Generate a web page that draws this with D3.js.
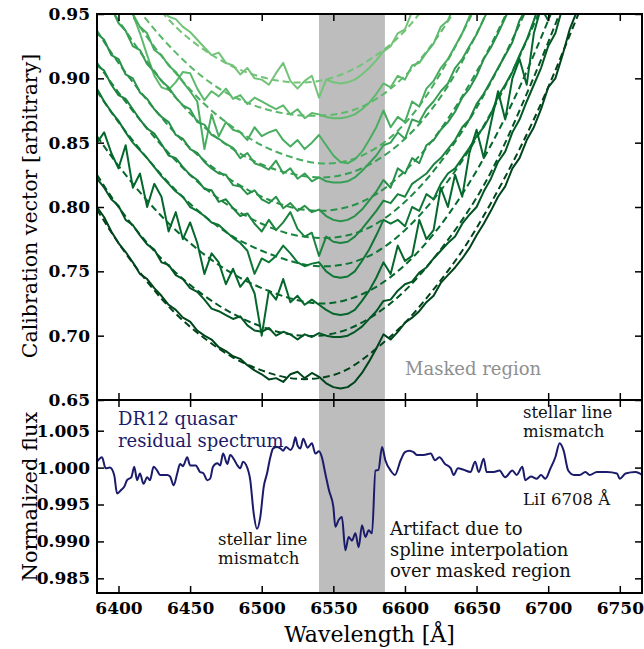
<!DOCTYPE html>
<html>
<head>
<meta charset="utf-8">
<script src="https://cdn.jsdelivr.net/npm/d3@7"></script>
<style>
  body { margin: 0; background: #fff; }
  svg { display: block; font-family: "DejaVu Serif", serif; }
</style>
</head>
<body>
<svg id="chart" width="644" height="649"></svg>
<script>
// wavelength range shown and the region masked around H-alpha
const waveDomain = [6385, 6765.5];
const maskedRange = [6540, 6586];

// calibration vectors, sampled every 5 A from their start wavelength
const STEP = 5;
const calibStart = [6425, 6400, 6385, 6385, 6385, 6385, 6385, 6385, 6385, 6385];

const calib1 = [0.965, 0.955, 0.948, 0.946, 0.94, 0.936, 0.93, 0.924, 0.918, 0.92, 0.912, 0.91, 0.903, 0.908, 0.9, 0.899, 0.895, 0.904, 0.912, 0.898, 0.892, 0.898, 0.902, 0.885,
  0.899, 0.897, 0.896, 0.897, 0.899, 0.903, 0.908, 0.914, 0.921, 0.925, 0.935, 0.938, 0.952, 0.96];
const calib2 = [0.975, 0.962, 0.95, 0.935, 0.918, 0.902, 0.893, 0.891, 0.897, 0.905, 0.904, 0.892, 0.883, 0.89, 0.886, 0.892, 0.884, 0.887, 0.88, 0.885, 0.882, 0.879, 0.876, 0.879, 0.872, 0.876, 0.869, 0.873, 0.872,
  0.87, 0.869, 0.869, 0.87, 0.872, 0.876, 0.881, 0.888, 0.896, 0.893, 0.902, 0.899, 0.91, 0.912, 0.92, 0.927, 0.94, 0.945, 0.958, 0.965];
const calib3 = [0.99, 0.985, 0.972, 0.968, 0.955, 0.95, 0.94, 0.935, 0.922, 0.918, 0.91, 0.905, 0.897, 0.89, 0.882, 0.845, 0.872, 0.855, 0.866, 0.86, 0.858, 0.852, 0.862, 0.855, 0.858, 0.86, 0.852, 0.847, 0.852, 0.845, 0.85, 0.856,
  0.848, 0.84, 0.835, 0.834, 0.837, 0.843, 0.852, 0.862, 0.875, 0.862, 0.87, 0.866, 0.882, 0.878, 0.892, 0.898, 0.908, 0.915, 0.925, 0.935, 0.948, 0.96];
const calib4 = [0.975, 0.962, 0.955, 0.943, 0.937, 0.925, 0.922, 0.911, 0.905, 0.898, 0.893, 0.885, 0.879, 0.876, 0.866, 0.864, 0.856, 0.853, 0.849, 0.846, 0.838, 0.842, 0.834, 0.832, 0.829, 0.836, 0.826, 0.83, 0.822, 0.826, 0.82, 0.823,
  0.82, 0.819, 0.819, 0.82, 0.823, 0.828, 0.834, 0.84, 0.848, 0.85, 0.858, 0.853, 0.868, 0.866, 0.876, 0.882, 0.89, 0.896, 0.908, 0.915, 0.925, 0.934, 0.946, 0.958];
const calib5 = [0.935, 0.93, 0.918, 0.915, 0.903, 0.9, 0.889, 0.884, 0.876, 0.87, 0.866, 0.856, 0.853, 0.845, 0.842, 0.835, 0.83, 0.826, 0.825, 0.817, 0.816, 0.81, 0.813, 0.806, 0.803, 0.808, 0.799, 0.803, 0.797, 0.801, 0.796, 0.798,
  0.793, 0.79, 0.789, 0.79, 0.793, 0.798, 0.805, 0.812, 0.821, 0.815, 0.83, 0.826, 0.838, 0.834, 0.848, 0.852, 0.86, 0.866, 0.874, 0.885, 0.892, 0.902, 0.915, 0.924, 0.935, 0.947, 0.96];
const calib6 = [0.91, 0.906, 0.895, 0.887, 0.884, 0.876, 0.868, 0.861, 0.857, 0.849, 0.84, 0.838, 0.831, 0.825, 0.821, 0.814, 0.813, 0.804, 0.806, 0.799, 0.793, 0.795, 0.787, 0.781, 0.79, 0.782, 0.788, 0.796, 0.783, 0.777, 0.78, 0.762,
  0.777, 0.773, 0.772, 0.773, 0.777, 0.783, 0.79, 0.797, 0.805, 0.803, 0.81, 0.808, 0.818, 0.822, 0.826, 0.833, 0.838, 0.845, 0.852, 0.862, 0.868, 0.88, 0.888, 0.898, 0.908, 0.918, 0.928, 0.945, 0.955];
const calib7 = [0.892, 0.882, 0.874, 0.867, 0.858, 0.85, 0.844, 0.838, 0.831, 0.824, 0.818, 0.812, 0.808, 0.8, 0.797, 0.793, 0.788, 0.786, 0.781, 0.776, 0.772, 0.766, 0.748, 0.76, 0.757, 0.762, 0.77, 0.764, 0.757, 0.754, 0.756, 0.757,
  0.75, 0.746, 0.745, 0.746, 0.75, 0.758, 0.767, 0.778, 0.79, 0.787, 0.79, 0.785, 0.8, 0.797, 0.81, 0.806, 0.818, 0.826, 0.83, 0.838, 0.846, 0.855, 0.862, 0.872, 0.886, 0.895, 0.905, 0.918, 0.93, 0.945, 0.962];
const calib8 = [0.85, 0.858, 0.842, 0.83, 0.848, 0.815, 0.826, 0.8, 0.818, 0.808, 0.781, 0.796, 0.775, 0.788, 0.772, 0.748, 0.764, 0.757, 0.74, 0.752, 0.738, 0.745, 0.733, 0.7, 0.735, 0.728, 0.744, 0.726, 0.731, 0.724, 0.728, 0.724,
  0.72, 0.717, 0.716, 0.717, 0.72, 0.727, 0.735, 0.745, 0.757, 0.748, 0.77, 0.758, 0.762, 0.79, 0.775, 0.782, 0.815, 0.8, 0.825, 0.808, 0.842, 0.86, 0.838, 0.865, 0.89, 0.868, 0.9, 0.915, 0.895, 0.935, 0.955, 0.945, 0.97];
const calib9 = [0.822, 0.815, 0.806, 0.801, 0.79, 0.786, 0.778, 0.771, 0.767, 0.757, 0.755, 0.747, 0.744, 0.737, 0.734, 0.728, 0.721, 0.719, 0.716, 0.713, 0.715, 0.708, 0.704, 0.703, 0.706, 0.7, 0.703, 0.701, 0.697, 0.701, 0.699, 0.702,
  0.7, 0.699, 0.699, 0.7, 0.703, 0.707, 0.713, 0.719, 0.727, 0.728, 0.735, 0.74, 0.742, 0.749, 0.753, 0.76, 0.766, 0.772, 0.777, 0.787, 0.794, 0.8, 0.812, 0.822, 0.835, 0.843, 0.858, 0.868, 0.882, 0.895, 0.908, 0.925, 0.935, 0.955, 0.97];
const calib10 = [0.8, 0.792, 0.781, 0.772, 0.765, 0.757, 0.748, 0.744, 0.737, 0.731, 0.724, 0.72, 0.714, 0.711, 0.704, 0.7, 0.697, 0.691, 0.688, 0.684, 0.682, 0.677, 0.673, 0.67, 0.666, 0.667, 0.664, 0.67, 0.672, 0.667, 0.671, 0.668,
  0.663, 0.66, 0.659, 0.66, 0.664, 0.671, 0.68, 0.69, 0.701, 0.697, 0.703, 0.71, 0.714, 0.719, 0.726, 0.731, 0.741, 0.747, 0.753, 0.76, 0.768, 0.778, 0.787, 0.797, 0.808, 0.816, 0.83, 0.838, 0.852, 0.862, 0.876, 0.893, 0.9, 0.918, 0.938, 0.952, 0.965];

// smooth spline fits (dashed), knots on a 20 A grid
const fitWave = [6385, 6400, 6420, 6440, 6460, 6480, 6500, 6520, 6540, 6560, 6580, 6600, 6620, 6640, 6660, 6680, 6700, 6720, 6740];
const fit1 = [null, null, 0.965, 0.94, 0.922, 0.909, 0.901, 0.897, 0.898, 0.905, 0.918, 0.937, 0.965];
const fit2 = [null, 0.975, 0.945, 0.92, 0.9, 0.886, 0.877, 0.872, 0.871, 0.874, 0.884, 0.902, 0.928, 0.962];
const fit3 = [0.99, 0.965, 0.932, 0.904, 0.88, 0.862, 0.848, 0.839, 0.834, 0.836, 0.846, 0.865, 0.895, 0.935, 0.98];
const fit4 = [0.97, 0.945, 0.913, 0.885, 0.862, 0.845, 0.833, 0.826, 0.823, 0.826, 0.836, 0.853, 0.878, 0.913, 0.958];
const fit5 = [0.937, 0.912, 0.883, 0.857, 0.836, 0.82, 0.808, 0.8, 0.797, 0.8, 0.81, 0.828, 0.853, 0.886, 0.926, 0.972];
const fit6 = [0.912, 0.889, 0.861, 0.836, 0.815, 0.799, 0.787, 0.779, 0.776, 0.778, 0.787, 0.804, 0.828, 0.859, 0.897, 0.942, 0.992];
const fit7 = [0.89, 0.866, 0.838, 0.813, 0.793, 0.777, 0.766, 0.758, 0.754, 0.756, 0.765, 0.782, 0.806, 0.836, 0.873, 0.917, 0.968];
const fit8 = [0.855, 0.832, 0.805, 0.782, 0.763, 0.748, 0.737, 0.729, 0.725, 0.728, 0.738, 0.755, 0.779, 0.81, 0.848, 0.893, 0.945, 1.0];
const fit9 = [0.825, 0.8, 0.772, 0.749, 0.731, 0.717, 0.707, 0.701, 0.7, 0.705, 0.717, 0.735, 0.76, 0.79, 0.827, 0.875, 0.928, 0.985];
const fit10 = [0.798, 0.772, 0.742, 0.717, 0.698, 0.683, 0.673, 0.667, 0.667, 0.674, 0.69, 0.71, 0.736, 0.766, 0.803, 0.845, 0.893, 0.947, 1.0];

// DR12 quasar residual spectrum
const residWave = [6385, 6388.5, 6391, 6394, 6397, 6399, 6402, 6404, 6406, 6409, 6411, 6413, 6415, 6417.5, 6420, 6422, 6424.5, 6427, 6429, 6434,
  6436, 6438.5, 6441, 6443, 6445, 6448, 6450, 6454, 6457, 6459, 6462, 6464, 6466, 6469, 6471, 6473, 6476, 6478, 6481, 6483,
  6485, 6487, 6489, 6492, 6494.4, 6496.7, 6499, 6501.4, 6503.7, 6506, 6508, 6510.7, 6513, 6515, 6517, 6520, 6522, 6523.5, 6525, 6527,
  6529, 6532, 6535, 6537.5, 6540, 6542, 6544.4, 6547, 6550, 6551.4, 6553.7, 6556, 6558.4, 6560.7, 6563, 6565.4, 6567.7, 6570, 6572.4, 6574.7,
  6577, 6579.4, 6581.5, 6584, 6586.3, 6590, 6593, 6597, 6600, 6603, 6606, 6608.5, 6613, 6618, 6621, 6624, 6628, 6632, 6634, 6637,
  6641, 6645.7, 6649, 6651.5, 6655, 6657, 6662, 6666, 6670, 6675, 6678, 6682, 6684, 6688, 6692, 6695, 6698, 6701.6, 6705, 6708,
  6710.8, 6714, 6718, 6722, 6726, 6729, 6734, 6741, 6748, 6750, 6754, 6761, 6765.6];
const residFlux = [1.0008, 1.0014, 0.9999, 1.0, 0.999, 0.9965, 0.997, 0.9974, 0.9983, 0.9987, 1.0001, 0.9983, 0.9992, 0.9978, 0.9987, 0.9983, 1.0001, 0.9996, 0.999, 0.999,
  0.9988, 0.9976, 0.9992, 1.0005, 1.0002, 1.0014, 1.0003, 1.0003, 0.9994, 0.9993, 0.9983, 0.9985, 1.0001, 1.0006, 1.0003, 1.0019, 1.0005, 1.0017, 1.001, 1.0003,
  0.9999, 1.0008, 1.0004, 0.9983, 0.9938, 0.9917, 0.9933, 0.9974, 0.9992, 1.0014, 1.0026, 1.0028, 1.0026, 1.0023, 1.0028, 1.0024, 1.003, 1.0041, 1.003, 1.0026,
  1.0039, 1.0027, 1.0033, 1.0019, 1.0022, 1.0014, 0.9992, 0.9969, 0.9947, 0.992, 0.9929, 0.9933, 0.9888, 0.9906, 0.9901, 0.9911, 0.9892, 0.9922, 0.9906, 0.9915,
  0.9911, 0.9996, 0.9997, 1.0028, 1.001, 0.9996, 0.999, 1.001, 1.0021, 1.0023, 1.0021, 1.0017, 1.0017, 1.0019, 1.001, 1.0014, 1.0005, 0.9999, 0.999, 0.9999,
  0.9997, 0.9994, 1.0008, 0.9994, 1.0012, 0.9994, 0.9994, 0.9996, 0.9987, 0.9996, 0.999, 1.0001, 0.9983, 0.9988, 0.9985, 0.999, 0.9985, 0.9999, 1.0014, 1.0033,
  1.0023, 0.9996, 0.999, 0.999, 0.9994, 0.999, 0.9994, 0.9994, 0.9992, 0.9985, 0.9992, 0.9994, 0.999];

const waveTicks = [6400, 6450, 6500, 6550, 6600, 6650, 6700, 6750];
const calibTicks = [0.65, 0.7, 0.75, 0.8, 0.85, 0.9, 0.95];
const fluxTicks = [0.985, 0.99, 0.995, 1.0, 1.005];

const calibs = [calib1, calib2, calib3, calib4, calib5, calib6, calib7, calib8, calib9, calib10];
const fits = [fit1, fit2, fit3, fit4, fit5, fit6, fit7, fit8, fit9, fit10];

const svg = d3.select("#chart");
const left = 97, right = 642;
const top1 = 14, bot1 = 400, bot2 = 593;

const x = d3.scaleLinear().domain(waveDomain).range([left, right]);
const yCal = d3.scaleLinear().domain([0.65, 0.95]).range([bot1, top1]);
const yFlux = d3.scaleLinear().domain([0.98301, 1.00916]).range([bot2, bot1]);

// light to dark greens for the successive vectors
const green = (i) => d3.interpolateGreens(0.5 + 0.5 * i / 9);

svg.append("defs").append("clipPath").attr("id", "clipTop")
  .append("rect").attr("x", left).attr("y", top1).attr("width", right - left).attr("height", bot1 - top1);

// masked region in both panels
svg.append("rect")
  .attr("x", x(maskedRange[0])).attr("width", x(maskedRange[1]) - x(maskedRange[0]))
  .attr("y", top1).attr("height", bot2 - top1)
  .attr("fill", "#bdbdbd");

const gTop = svg.append("g").attr("clip-path", "url(#clipTop)");

const fitLine = d3.line()
  .defined((d) => d[1] != null)
  .x((d) => x(d[0])).y((d) => yCal(d[1]))
  .curve(d3.curveNatural);

const calLine = d3.line()
  .x((d) => x(d[0])).y((d) => yCal(d[1]));

calibs.forEach((vals, i) => {
  const pts = vals.map((v, j) => [calibStart[i] + j * STEP, v]);
  const fitPts = fits[i].map((v, j) => [fitWave[j], v]);
  gTop.append("path")
    .attr("d", fitLine(fitPts))
    .attr("fill", "none")
    .attr("stroke", green(i))
    .attr("stroke-width", 2)
    .attr("stroke-dasharray", "7,4");
  gTop.append("path")
    .attr("d", calLine(pts))
    .attr("fill", "none")
    .attr("stroke", green(i))
    .attr("stroke-width", 2)
    .attr("stroke-linejoin", "round");
});

// residual spectrum
const fluxLine = d3.line()
  .x((d, j) => x(residWave[j])).y((d) => yFlux(d))
  .curve(d3.curveMonotoneX);
svg.append("path")
  .attr("d", fluxLine(residFlux))
  .attr("fill", "none")
  .attr("stroke", "#1b1b6b")
  .attr("stroke-width", 2)
  .attr("stroke-linejoin", "round");

// axes: inward ticks on every side
const tickFont = (g) => g.selectAll("text")
  .attr("font-family", "DejaVu Serif").attr("font-weight", "bold").attr("font-size", 17).attr("fill", "#000");
const clean = (g) => { g.select(".domain").remove(); g.selectAll(".tick line").attr("stroke-width", 1.5); };

svg.append("g").attr("transform", `translate(${left},0)`)
  .call(d3.axisLeft(yCal).tickValues(calibTicks).tickFormat(d3.format(".2f")).tickSizeInner(-7).tickSizeOuter(0).tickPadding(7))
  .call(clean).call(tickFont);
svg.append("g").attr("transform", `translate(${right},0)`)
  .call(d3.axisRight(yCal).tickValues(calibTicks).tickFormat("").tickSizeInner(-7).tickSizeOuter(0))
  .call(clean);
svg.append("g").attr("transform", `translate(0,${top1})`)
  .call(d3.axisTop(x).tickValues(waveTicks).tickFormat("").tickSizeInner(-7).tickSizeOuter(0))
  .call(clean);
svg.append("g").attr("transform", `translate(0,${bot1})`)
  .call(d3.axisBottom(x).tickValues(waveTicks).tickFormat("").tickSizeInner(-7).tickSizeOuter(0))
  .call(clean);
svg.append("g").attr("transform", `translate(0,${bot1})`)
  .call(d3.axisTop(x).tickValues(waveTicks).tickFormat("").tickSizeInner(-7).tickSizeOuter(0))
  .call(clean);
svg.append("g").attr("transform", `translate(0,${bot2})`)
  .call(d3.axisBottom(x).tickValues(waveTicks).tickFormat(d3.format("d")).tickSizeInner(-7).tickSizeOuter(0).tickPadding(9))
  .call(clean).call(tickFont);
svg.append("g").attr("transform", `translate(${left},0)`)
  .call(d3.axisLeft(yFlux).tickValues(fluxTicks).tickFormat(d3.format(".3f")).tickSizeInner(-7).tickSizeOuter(0).tickPadding(7))
  .call(clean).call(tickFont);
svg.append("g").attr("transform", `translate(${right},0)`)
  .call(d3.axisRight(yFlux).tickValues(fluxTicks).tickFormat("").tickSizeInner(-7).tickSizeOuter(0))
  .call(clean);

// panel frames
[[top1, bot1], [bot1, bot2]].forEach(([a, b]) => {
  svg.append("rect")
    .attr("x", left).attr("y", a).attr("width", right - left).attr("height", b - a)
    .attr("fill", "none").attr("stroke", "#000").attr("stroke-width", 2);
});

// axis titles
svg.append("text")
  .attr("transform", `translate(37,${(top1 + bot1) / 2 - 1}) rotate(-90)`)
  .attr("text-anchor", "middle").attr("font-size", 20.5)
  .text("Calibration vector [arbitrary]");
svg.append("text")
  .attr("transform", `translate(37,${(bot1 + bot2) / 2}) rotate(-90)`)
  .attr("text-anchor", "middle").attr("font-size", 21)
  .text("Normalized flux");
svg.append("text")
  .attr("x", (left + right) / 2).attr("y", 642)
  .attr("text-anchor", "middle").attr("font-size", 22)
  .text("Wavelength [Å]");

// annotations
const note = (lines, px, py, opts = {}) => {
  const t = svg.append("text")
    .attr("x", px).attr("y", py)
    .attr("font-size", opts.size || 15)
    .attr("fill", opts.color || "#111");
  lines.forEach((s, k) => t.append("tspan").attr("x", px).attr("dy", k ? (opts.lead || 19) : 0).text(s));
};
note(["Masked region"], 405, 375, { size: 18, color: "#8f8f8f" });
note(["DR12 quasar", "residual spectrum"], 118, 425, { size: 18, color: "#1b1b6b", lead: 22 });
note(["stellar line", "mismatch"], 218, 545, { size: 16.5, lead: 18.5 });
note(["stellar line", "mismatch"], 523, 418, { size: 16.5, lead: 19 });
note(["LiI 6708 Å"], 523, 505, { size: 16.5 });
note(["Artifact due to", "spline interpolation", "over masked region"], 390, 535, { size: 18, lead: 21 });
</script>
</body>
</html>
